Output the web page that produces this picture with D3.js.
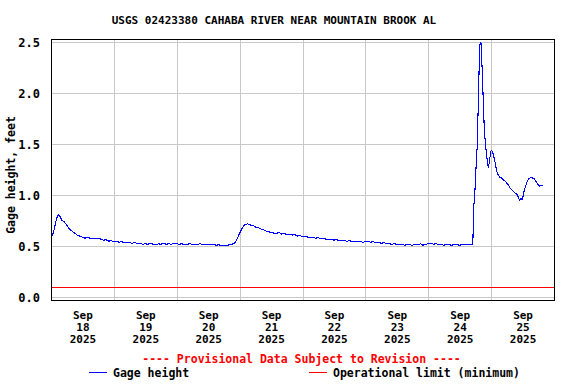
<!DOCTYPE html>
<html>
<head>
<meta charset="utf-8">
<script src="https://cdn.jsdelivr.net/npm/d3@7"></script>
<style>
  html, body { margin: 0; padding: 0; background: #fff; }
  svg { display: block; }
  text { font-family: "DejaVu Sans Mono", "Liberation Mono", monospace; font-weight: bold; }
</style>
</head>
<body>
<svg id="chart" width="576" height="384"></svg>
<script>
// ---- Data (hours since 2025-09-18 00:00, gage height in feet) ----
const title = "USGS 02423380 CAHABA RIVER NEAR MOUNTAIN BROOK AL";
const yLabel = "Gage height, feet";
const startDate = "2025-09-18T00:00:00Z";
const endDate = "2025-09-26T00:00:00Z";
const hours = [
  0.25, 1, 2, 2.5, 3, 3.5, 4, 5, 6, 7, 8, 9, 10, 11, 12, 13, 14, 15, 16, 17, 18, 19, 20, 21, 22, 23, 24,
  25, 26, 27, 28, 29, 30, 31, 32, 33, 34, 35, 36, 37, 38, 39, 40, 41, 42, 43, 44, 45, 46, 47, 48,
  49, 50, 51, 52, 53, 54, 55, 56, 57, 58, 59, 60, 61, 62, 63, 64, 65, 66, 67, 68, 69, 70,
  70.5, 71, 71.5, 72, 72.5, 73, 73.5, 74, 75, 76, 77, 78, 79, 80, 81, 82, 83, 84, 85, 86, 87, 88, 89, 90,
  91, 92, 93, 94, 95, 96, 97, 98, 99, 100, 101, 102, 103, 104, 105, 106, 107, 108, 109, 110,
  111, 112, 113, 114, 115, 116, 117, 118, 119, 120, 121, 122, 123, 124, 125, 126, 127, 128, 129, 130,
  131, 132, 133, 134, 135, 136, 137, 138, 139, 140, 141, 142, 143, 144, 145, 146, 147, 148, 149, 150,
  151, 152, 153, 154, 155, 156, 157, 158, 159, 160, 160.75, 161.0, 161.1, 161.2, 161.4, 161.8,
  162.3, 162.7, 163.2, 163.6, 163.8, 164.1, 164.3, 164.9, 165.4, 165.9, 166.3, 166.7, 167.0, 167.3,
  167.7, 168.0, 168.5, 169.0, 169.4, 169.8, 170.2, 170.7, 171.2, 172, 172.7, 173.3, 174, 174.6,
  175.3, 176, 176.6, 177.2, 177.9, 178.4, 178.8, 179.3, 179.8, 180.1, 180.4, 180.8, 181.3, 181.8,
  182.3, 182.8, 183.2, 183.8, 184.5, 185, 185.5, 186, 186.4, 187, 187.6
];
const gage = [
  0.60, 0.64, 0.76, 0.80, 0.81, 0.79, 0.76, 0.74, 0.71, 0.67, 0.65, 0.63, 0.61, 0.60, 0.59, 0.58, 0.585, 0.58, 0.58, 0.575, 0.58, 0.57, 0.56, 0.565, 0.55, 0.555, 0.545,
  0.55, 0.54, 0.545, 0.535, 0.54, 0.535, 0.53, 0.54, 0.525, 0.53, 0.52, 0.525, 0.52, 0.53, 0.52, 0.515, 0.525, 0.52, 0.53, 0.52, 0.525, 0.52, 0.53, 0.525,
  0.52, 0.525, 0.515, 0.52, 0.525, 0.52, 0.515, 0.52, 0.525, 0.515, 0.52, 0.52, 0.515, 0.52, 0.51, 0.515, 0.505, 0.51, 0.505, 0.515, 0.52, 0.53,
  0.545, 0.57, 0.60, 0.63, 0.655, 0.68, 0.70, 0.71, 0.72, 0.71, 0.705, 0.69, 0.685, 0.67, 0.665, 0.65, 0.645, 0.635, 0.63, 0.625, 0.635, 0.62, 0.625, 0.615,
  0.62, 0.61, 0.615, 0.60, 0.605, 0.595, 0.60, 0.59, 0.585, 0.59, 0.58, 0.585, 0.575, 0.58, 0.57, 0.565, 0.57, 0.56, 0.565, 0.555,
  0.56, 0.555, 0.55, 0.555, 0.545, 0.55, 0.545, 0.55, 0.54, 0.545, 0.55, 0.54, 0.545, 0.535, 0.54, 0.53, 0.535, 0.53, 0.525, 0.52,
  0.525, 0.52, 0.515, 0.52, 0.51, 0.52, 0.515, 0.51, 0.52, 0.515, 0.525, 0.51, 0.52, 0.525, 0.53, 0.52, 0.525, 0.515, 0.52, 0.51,
  0.52, 0.515, 0.51, 0.52, 0.515, 0.51, 0.52, 0.515, 0.52, 0.515, 0.52, 0.53, 0.61, 0.71, 0.90, 1.03,
  1.30, 1.49, 2.00, 2.45, 2.49, 2.50, 2.42, 2.00, 1.64, 1.49, 1.39, 1.29, 1.28, 1.32,
  1.40, 1.44, 1.43, 1.38, 1.34, 1.28, 1.23, 1.20, 1.18, 1.17, 1.15, 1.14, 1.12, 1.10,
  1.07, 1.05, 1.035, 1.02, 1.01, 0.98, 0.95, 0.97, 0.96, 0.98, 1.02, 1.06, 1.10, 1.14,
  1.16, 1.17, 1.18, 1.17, 1.16, 1.14, 1.12, 1.10, 1.09, 1.10, 1.095
];
const operationalLimit = 0.1;
const yTicks = [0.0, 0.5, 1.0, 1.5, 2.0, 2.5];
const dayLabels = ["18", "19", "20", "21", "22", "23", "24", "25"];
const monthLabel = "Sep";
const yearLabel = "2025";
const provisionalText = "---- Provisional Data Subject to Revision ----";
const legendNames = ["Gage height", "Operational limit (minimum)"];

// ---- Layout ----
const svg = d3.select("#chart");
const frame = { left: 51, right: 554, top: 39, bottom: 300 };

const t0 = new Date(startDate), t1 = new Date(endDate);
const x = d3.scaleUtc().domain([t0, t1]).range([frame.left, frame.right]);
const y = d3.scaleLinear().domain([0, 2.5]).range([297.3, 42.3]);

const data = hours.map((h, i) => ({ t: new Date(t0.getTime() + h * 3600e3), v: gage[i] }));

// gridlines
const midnights = d3.utcDay.range(t0, d3.utcDay.offset(t1, 1));
svg.append("g").selectAll("line").data(midnights).join("line")
  .attr("x1", d => Math.round(x(d)) + 0.5).attr("x2", d => Math.round(x(d)) + 0.5)
  .attr("y1", frame.top).attr("y2", frame.bottom)
  .attr("stroke", "#c8c8c8").attr("stroke-width", 1);
svg.append("g").selectAll("line").data(yTicks).join("line")
  .attr("x1", frame.left).attr("x2", frame.right)
  .attr("y1", d => Math.round(y(d)) + 0.5).attr("y2", d => Math.round(y(d)) + 0.5)
  .attr("stroke", "#c8c8c8").attr("stroke-width", 1);

// operational limit
svg.append("line")
  .attr("x1", frame.left).attr("x2", frame.right)
  .attr("y1", Math.round(y(operationalLimit)) + 0.5).attr("y2", Math.round(y(operationalLimit)) + 0.5)
  .attr("stroke", "#ff0000").attr("stroke-width", 1);

// data line
svg.append("path").datum(data)
  .attr("d", d3.line().x(d => x(d.t)).y(d => y(d.v)))
  .attr("fill", "none").attr("stroke", "#0000ff").attr("stroke-width", 1.1)
  .attr("shape-rendering", "crispEdges");

// frame
svg.append("rect")
  .attr("x", frame.left + 0.5).attr("y", frame.top + 0.5)
  .attr("width", frame.right - frame.left).attr("height", frame.bottom - frame.top)
  .attr("fill", "none").attr("stroke", "#000").attr("stroke-width", 1);

// y axis
const yAxis = svg.append("g").attr("transform", `translate(${frame.left - 8},0)`)
  .call(d3.axisLeft(y).tickValues(yTicks).tickFormat(d3.format(".1f")).tickSize(0));
yAxis.select(".domain").remove();
yAxis.selectAll("text").attr("font-size", 12).attr("fill", "#000")
  .attr("font-family", "'DejaVu Sans Mono', monospace").attr("font-weight", "bold").attr("dx", 0);

// x axis
const noons = midnights.slice(0, 8).map(d => d3.utcHour.offset(d, 12));
const xAxis = svg.append("g").attr("transform", `translate(0,${frame.bottom})`)
  .call(d3.axisBottom(x).tickValues(noons).tickSize(0).tickFormat(() => ""));
xAxis.select(".domain").remove();
xAxis.selectAll(".tick text").each(function(d, i) {
  const t = d3.select(this).attr("y", 0).attr("dy", null)
    .attr("font-size", 11).attr("fill", "#000")
    .attr("font-family", "'DejaVu Sans Mono', monospace").attr("font-weight", "bold");
  [monthLabel, dayLabels[i], yearLabel].forEach((s, k) => {
    t.append("tspan").attr("x", 0).attr("y", 19 + k * 12).text(s);
  });
});

// title
svg.append("text").attr("x", 274).attr("y", 24).attr("text-anchor", "middle")
  .attr("font-size", 11).attr("fill", "#000").text(title);

// y label
svg.append("text").attr("transform", "translate(15,175) rotate(-90)")
  .attr("text-anchor", "middle").attr("font-size", 11.5).attr("fill", "#000").text(yLabel);

// provisional
svg.append("text").attr("x", 301.5).attr("y", 363).attr("text-anchor", "middle")
  .attr("font-size", 11.5).attr("fill", "#ff0000").text(provisionalText);

// legend
const legendColors = ["#0000ff", "#ff0000"];
const legendX = [89, 309];
legendNames.forEach((name, i) => {
  svg.append("line").attr("x1", legendX[i]).attr("x2", legendX[i] + 18)
    .attr("y1", 372.5).attr("y2", 372.5).attr("stroke", legendColors[i]).attr("stroke-width", 1);
  svg.append("text").attr("x", legendX[i] + 24).attr("y", 377)
    .attr("font-size", 11.5).attr("fill", "#000").text(name);
});
</script>
</body>
</html>
